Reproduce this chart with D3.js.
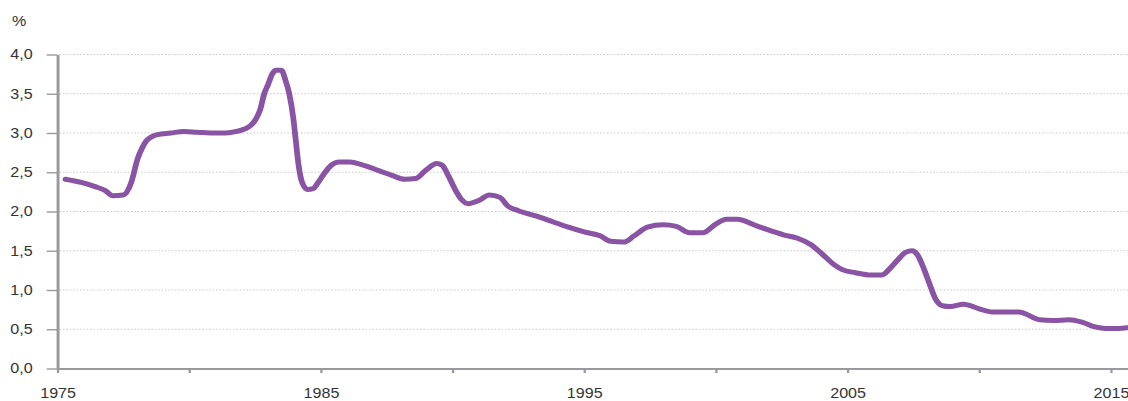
<!DOCTYPE html>
<html>
<head>
<meta charset="utf-8">
<script src="https://cdn.jsdelivr.net/npm/d3@7"></script>
<style>
  html, body { margin: 0; padding: 0; background: #fff; }
  svg { display: block; }
  text { font-family: "Liberation Sans", Arial, Helvetica, sans-serif; fill: #333; }
</style>
</head>
<body>
<svg id="chart" width="1128" height="401"></svg>
<script>
// ---- data ----
const years = [
  1975.3, 1975.9, 1976.4, 1976.8, 1977.1, 1977.5, 1977.8, 1978.05, 1978.2, 1978.4,
  1978.8, 1979.3, 1979.8, 1980.3, 1980.8, 1981.4, 1981.8, 1982.1, 1982.35, 1982.5,
  1982.7, 1982.85, 1983.0, 1983.15, 1983.3, 1983.5, 1983.65, 1983.8, 1983.95, 1984.05,
  1984.15, 1984.3, 1984.5, 1984.7, 1984.9, 1985.1, 1985.4, 1985.7, 1986.1, 1986.7,
  1987.2, 1987.7, 1988.2, 1988.6, 1989.0, 1989.4, 1989.6, 1989.85, 1990.1, 1990.35,
  1990.6, 1991.0, 1991.4, 1991.8, 1992.1, 1992.5, 1993.2, 1993.8, 1994.4, 1995.0,
  1995.6, 1996.0, 1996.5, 1996.9, 1997.4, 1998.0, 1998.5, 1999.0, 1999.5, 2000.0,
  2000.4, 2000.8, 2001.6, 2002.6, 2003.1, 2003.6, 2004.0, 2004.5, 2004.8, 2005.3,
  2005.9, 2006.3, 2006.6, 2006.9, 2007.2, 2007.45, 2007.65, 2007.9, 2008.1, 2008.35,
  2008.6, 2008.9, 2009.4, 2010.0, 2010.5, 2011.5, 2012.3, 2012.8, 2013.4, 2013.9,
  2014.4, 2014.8, 2015.3, 2015.6
];
const values = [
  2.41, 2.37, 2.32, 2.27, 2.20, 2.21, 2.37, 2.68, 2.80, 2.91,
  2.98, 3.00, 3.02, 3.01, 3.00, 3.00, 3.02, 3.05, 3.10, 3.16,
  3.30, 3.50, 3.62, 3.75, 3.80, 3.80, 3.68, 3.50, 3.20, 2.90,
  2.60, 2.36, 2.28, 2.29, 2.37, 2.47, 2.59, 2.63, 2.63, 2.58,
  2.52, 2.46, 2.41, 2.42, 2.53, 2.61, 2.59, 2.45, 2.28, 2.15,
  2.10, 2.14, 2.21, 2.18, 2.07, 2.01, 1.94, 1.87, 1.80, 1.74,
  1.69, 1.62, 1.61, 1.69, 1.80, 1.83, 1.81, 1.73, 1.73, 1.84,
  1.90, 1.90, 1.81, 1.70, 1.66, 1.58, 1.47, 1.32, 1.26, 1.22,
  1.19, 1.19, 1.27, 1.38, 1.48, 1.50, 1.45, 1.27, 1.09, 0.88,
  0.80, 0.79, 0.82, 0.76, 0.72, 0.72, 0.62, 0.61, 0.62, 0.59,
  0.53, 0.51, 0.51, 0.52
];
const xTickYears = [1975, 1980, 1985, 1990, 1995, 2000, 2005, 2010, 2015];
const xLabelYears = [1975, 1985, 1995, 2005, 2015];
const yTicks = [0, 0.5, 1.0, 1.5, 2.0, 2.5, 3.0, 3.5, 4.0];
const unitLabel = "%";

// ---- layout ----
const sx = 1.15; // horizontal stretch of the original rendering
const W = 1128;
const fs = 14;
const svg = d3.select("#chart");
const g = svg.append("g").attr("transform", `scale(${sx},1)`);

const x = d3.scaleLinear().domain([1975, 2015.65]).range([57.5 / sx, W / sx]);
const y = d3.scaleLinear().domain([0, 4]).range([368.5, 54.5]);

const gridColor = "#c9c9c9";
const axisColor = "#9a9a9e";

// gridlines
g.append("g").selectAll("line")
  .data(yTicks.filter(v => v > 0))
  .join("line")
  .attr("x1", x.range()[0] + 2 / sx)
  .attr("x2", x.range()[1])
  .attr("y1", d => y(d))
  .attr("y2", d => y(d))
  .attr("stroke", gridColor)
  .attr("stroke-width", 1)
  .attr("stroke-dasharray", `${1.6 / sx},${1.8 / sx}`);

// x axis
const xAxis = d3.axisBottom(x)
  .tickValues(xTickYears)
  .tickFormat(d => xLabelYears.includes(d) ? String(d) : "")
  .tickSize(4.5)
  .tickSizeOuter(0)
  .tickPadding(15.4);
const gx = g.append("g").attr("transform", `translate(0,${y(0)})`).call(xAxis);
gx.select(".domain").attr("stroke", axisColor).attr("stroke-width", 2);
gx.selectAll(".tick line").attr("stroke", axisColor).attr("stroke-width", 2);
gx.selectAll(".tick text").attr("font-size", fs).attr("fill", "#333")
  .attr("font-family", '"Liberation Sans", Arial, Helvetica, sans-serif');

// y axis
const yAxis = d3.axisLeft(y)
  .tickValues(yTicks)
  .tickFormat(d => d.toFixed(1).replace(".", ","))
  .tickSize(9.4)
  .tickSizeOuter(0)
  .tickPadding(12.2);
const gy = g.append("g").attr("transform", `translate(${x.range()[0]},0)`).call(yAxis);
gy.select(".domain").attr("stroke", axisColor).attr("stroke-width", 2.6);
gy.selectAll(".tick line").attr("stroke", axisColor).attr("stroke-width", 1.4);
gy.selectAll(".tick text").attr("font-size", fs).attr("fill", "#333")
  .attr("font-family", '"Liberation Sans", Arial, Helvetica, sans-serif');

// unit label
g.append("text")
  .attr("x", 12 / sx)
  .attr("y", 26)
  .attr("font-size", fs)
  .text(unitLabel);

// series line
const data = years.map((yr, i) => ({ year: yr, value: values[i] }));
const line = d3.line()
  .x(d => x(d.year))
  .y(d => y(d.value))
  .curve(d3.curveMonotoneX);

g.append("path")
  .datum(data)
  .attr("d", line)
  .attr("fill", "none")
  .attr("stroke", "#8954a3")
  .attr("stroke-width", 5)
  .attr("stroke-linejoin", "round")
  .attr("stroke-linecap", "round");
</script>
</body>
</html>
